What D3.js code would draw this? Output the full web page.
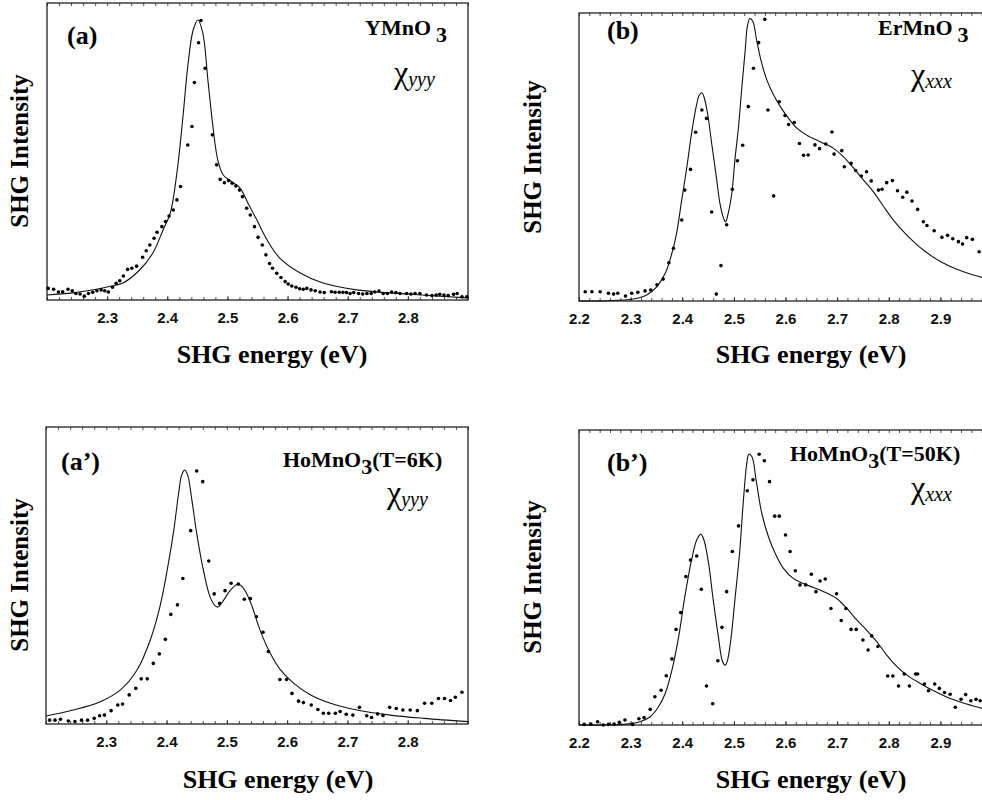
<!DOCTYPE html>
<html>
<head>
<meta charset="utf-8">
<script src="https://cdn.jsdelivr.net/npm/d3@7"></script>
<style>
  body { margin: 0; background: #fff; }
  .tick text { font-family: "Liberation Sans", Arial, sans-serif; font-weight: bold; font-size: 15px; fill: #111; }
</style>
</head>
<body>
<svg id="chart" width="982" height="800"></svg>
<script>

var SERIF = "'Liberation Serif', 'Times New Roman', serif";

// tick labels
var ticksA = [2.3, 2.4, 2.5, 2.6, 2.7, 2.8];
var ticksB = [2.2, 2.3, 2.4, 2.5, 2.6, 2.7, 2.8, 2.9];

// (a) YMnO3 : measured points [energy eV, intensity]
var dotsA = [[2.202,3.9],[2.211,3.6],[2.219,2.7],[2.226,2.8],[2.235,3.6],[2.242,3.1],[2.248,2.2],[2.255,2.0],
  [2.262,1.3],[2.269,2.2],[2.276,2.6],[2.283,3.1],[2.290,3.4],[2.296,3.1],[2.302,2.7],[2.309,4.3],[2.315,5.6],
  [2.321,6.5],[2.327,8.1],[2.334,10.3],[2.341,10.7],[2.349,11.4],[2.359,14.4],[2.365,16.6],[2.371,18.5],
  [2.378,20.8],[2.383,22.8],[2.391,24.7],[2.397,26.4],[2.403,28.3],[2.410,30.3],[2.416,33.7],[2.422,38.2],
  [2.434,52.2],[2.441,58.4],[2.445,73.2],[2.452,86.6],[2.456,94.1],[2.463,78.0],[2.475,55.6],[2.482,45.5],
  [2.488,40.6],[2.495,39.5],[2.502,40.2],[2.508,39.3],[2.514,38.4],[2.520,37.0],[2.525,34.8],[2.532,30.9],
  [2.538,28.6],[2.545,24.7],[2.551,21.1],[2.558,18.5],[2.564,15.2],[2.570,12.3],[2.575,10.7],[2.582,9.0],
  [2.589,7.6],[2.596,6.2],[2.601,5.4],[2.607,4.7],[2.614,4.3],[2.620,3.8],[2.626,3.6],[2.632,3.9],[2.639,3.4],
  [2.646,3.1],[2.654,2.7],[2.661,2.5],[2.673,2.8],[2.679,2.6],[2.686,2.6],[2.692,2.6],[2.698,2.5],[2.704,2.2],
  [2.710,2.5],[2.718,2.2],[2.725,2.0],[2.732,2.2],[2.739,2.2],[2.745,2.7],[2.752,3.0],[2.759,2.2],[2.766,2.2],
  [2.773,2.7],[2.780,2.5],[2.787,2.2],[2.798,2.2],[2.805,2.0],[2.812,2.2],[2.820,2.2],[2.831,1.7],[2.840,1.5],
  [2.847,1.7],[2.853,1.9],[2.860,1.7],[2.867,1.5],[2.876,1.9],[2.882,2.2],[2.890,1.1],[2.898,1.1]];
// (a) fit curve
var fitA = [[2.200,1.7],[2.243,2.4],[2.300,4.4],[2.326,5.7],[2.354,10.1],[2.376,15.8],[2.393,23.6],[2.405,29.3],
  [2.416,42.8],[2.426,61.6],[2.434,78.5],[2.443,90.9],[2.451,94.3],[2.459,89.9],[2.468,73.1],[2.476,58.2],
  [2.484,47.1],[2.493,42.1],[2.508,39.7],[2.521,37.7],[2.534,32.7],[2.549,26.9],[2.566,20.2],[2.587,14.1],
  [2.621,9.1],[2.659,5.7],[2.715,3.4],[2.799,2.0],[2.898,0.7]];

// (b) ErMnO3
var dotsB = [[2.212,3.2],[2.225,3.2],[2.241,3.2],[2.257,2.7],[2.267,2.4],[2.275,2.7],[2.290,1.7],[2.302,2.7],
  [2.314,3.0],[2.328,3.5],[2.339,3.8],[2.351,5.6],[2.363,7.6],[2.374,13.3],[2.383,18.3],[2.399,28.1],
  [2.405,38.5],[2.416,45.7],[2.426,58.6],[2.438,66.3],[2.447,63.4],[2.457,30.9],[2.466,2.4],[2.475,12.3],
  [2.486,26.5],[2.497,38.8],[2.507,48.7],[2.517,54.1],[2.528,67.5],[2.538,80.8],[2.548,89.7],[2.560,97.8],
  [2.566,66.3],[2.577,36.5],[2.588,69.2],[2.599,64.4],[2.606,61.3],[2.617,62.0],[2.627,54.7],[2.635,50.6],
  [2.644,50.7],[2.657,54.2],[2.666,52.9],[2.678,54.5],[2.690,58.7],[2.694,51.0],[2.709,52.2],[2.714,46.6],
  [2.727,47.8],[2.736,45.3],[2.747,43.4],[2.757,44.9],[2.766,41.7],[2.780,38.5],[2.787,38.8],[2.796,41.1],
  [2.807,41.8],[2.817,38.3],[2.827,36.0],[2.835,37.8],[2.845,34.7],[2.856,31.8],[2.867,27.5],[2.874,26.2],
  [2.888,24.4],[2.903,22.1],[2.914,22.8],[2.924,21.6],[2.935,20.6],[2.943,19.8],[2.951,22.0],[2.962,21.4],
  [2.975,17.1]];
var fitB = [[2.200,0],[2.254,0.1],[2.305,0.7],[2.331,2.1],[2.351,5.0],[2.367,9.6],[2.380,16.6],[2.389,23.5],
  [2.399,35.1],[2.409,46.6],[2.418,58.2],[2.427,67.5],[2.433,71.5],[2.438,72.3],[2.442,70.9],[2.449,65.2],
  [2.457,54.7],[2.466,43.2],[2.473,33.9],[2.480,28.7],[2.484,27.5],[2.489,30.4],[2.496,37.4],[2.502,49.0],
  [2.509,60.5],[2.515,73.3],[2.522,87.2],[2.526,95.3],[2.531,98.1],[2.537,97.0],[2.544,90.6],[2.554,82.5],
  [2.564,76.7],[2.577,71.5],[2.590,67.5],[2.606,63.4],[2.622,60.0],[2.641,57.6],[2.667,55.3],[2.693,53.0],
  [2.712,50.1],[2.732,46.1],[2.751,42.0],[2.770,38.0],[2.790,32.8],[2.809,28.1],[2.835,22.9],[2.867,17.7],
  [2.900,13.7],[2.932,11.0],[2.964,9.0],[2.981,8.2]];

// (a') HoMnO3 T=6K
var dotsA2 = [[2.206,1.3],[2.215,1.3],[2.224,1.6],[2.237,1.0],[2.248,0.8],[2.259,1.3],[2.269,1.3],[2.280,1.9],
  [2.289,2.8],[2.297,3.0],[2.308,4.5],[2.319,6.4],[2.327,6.7],[2.338,9.8],[2.349,12.0],[2.358,15.2],
  [2.368,15.2],[2.378,20.4],[2.388,23.6],[2.398,28.5],[2.407,36.9],[2.418,40.1],[2.427,49.0],[2.440,65.1],
  [2.450,85.2],[2.460,81.6],[2.470,54.9],[2.479,43.8],[2.488,40.6],[2.497,44.9],[2.507,47.4],[2.519,47.1],
  [2.529,42.0],[2.539,42.2],[2.549,36.1],[2.560,30.9],[2.569,24.4],[2.588,15.0],[2.599,15.0],[2.608,10.3],
  [2.619,7.7],[2.627,7.2],[2.640,6.4],[2.651,4.9],[2.660,3.6],[2.669,3.6],[2.680,3.6],[2.688,4.2],[2.698,3.3],
  [2.709,3.0],[2.720,5.6],[2.732,2.8],[2.740,2.2],[2.750,3.4],[2.759,2.9],[2.770,5.6],[2.781,5.2],[2.792,4.7],
  [2.804,4.7],[2.816,4.5],[2.828,7.0],[2.840,7.0],[2.851,8.6],[2.861,8.6],[2.871,7.9],[2.879,9.0],[2.890,10.7]];
var fitA2 = [[2.200,2.7],[2.245,4.7],[2.290,7.5],[2.323,11.4],[2.351,18.2],[2.373,28.3],[2.389,39.5],[2.403,54.1],
  [2.412,65.3],[2.420,77.7],[2.425,83.8],[2.430,85.5],[2.435,83.8],[2.442,75.4],[2.450,64.2],[2.461,51.9],
  [2.472,42.9],[2.481,39.7],[2.486,39.5],[2.495,41.8],[2.506,45.1],[2.517,47.0],[2.522,46.8],[2.531,44.6],
  [2.542,39.5],[2.555,31.6],[2.572,23.8],[2.589,18.2],[2.611,13.7],[2.639,9.8],[2.672,7.0],[2.716,4.7],
  [2.771,3.0],[2.827,1.9],[2.900,0.8]];

// (b') HoMnO3 T=50K
var dotsB2 = [[2.210,0.2],[2.223,0.3],[2.236,1.1],[2.247,0],[2.257,0.2],[2.268,0.3],[2.278,0.9],[2.289,1.7],
  [2.304,0.2],[2.316,2.1],[2.326,2.5],[2.338,5.3],[2.347,9.6],[2.359,11.8],[2.369,16.7],[2.380,22.4],
  [2.388,32.4],[2.397,38.1],[2.407,50.3],[2.416,55.9],[2.428,57.3],[2.437,46.0],[2.447,13.2],[2.459,7.2],
  [2.469,21.8],[2.477,33.1],[2.486,45.2],[2.497,58.8],[2.509,67.5],[2.526,79.4],[2.537,83.1],[2.549,91.8],
  [2.559,89.6],[2.569,82.5],[2.579,70.8],[2.588,70.8],[2.600,64.4],[2.609,58.8],[2.619,52.3],[2.628,47.5],
  [2.639,47.5],[2.650,51.1],[2.659,45.2],[2.667,48.8],[2.677,49.5],[2.688,39.5],[2.699,44.5],[2.708,35.4],
  [2.717,39.5],[2.727,32.4],[2.737,32.4],[2.750,28.8],[2.760,25.4],[2.767,30.2],[2.779,26.6],[2.798,16.6],
  [2.808,16.6],[2.819,13.2],[2.830,17.3],[2.840,13.2],[2.852,17.3],[2.856,17.3],[2.869,13.9],[2.877,11.6],
  [2.889,13.9],[2.898,12.4],[2.908,11.0],[2.919,10.4],[2.929,6.0],[2.940,8.7],[2.949,10.3],[2.959,8.2],
  [2.969,8.7],[2.977,8.2]];
var fitB2 = [[2.200,0],[2.254,0],[2.292,0.3],[2.318,1.1],[2.338,2.8],[2.354,6.2],[2.367,10.7],[2.380,18.6],
  [2.393,29.9],[2.405,43.5],[2.418,55.9],[2.428,62.7],[2.436,64.7],[2.442,62.7],[2.451,54.8],[2.460,42.4],
  [2.470,29.9],[2.478,21.5],[2.483,20.3],[2.487,21.5],[2.494,28.8],[2.502,42.4],[2.511,58.2],[2.518,75.1],
  [2.525,88.7],[2.529,91.8],[2.535,90.9],[2.543,83.1],[2.554,71.8],[2.567,63.8],[2.580,58.2],[2.596,53.1],
  [2.615,49.7],[2.641,47.5],[2.674,45.2],[2.699,42.9],[2.719,39.5],[2.738,35.6],[2.757,32.2],[2.777,28.2],
  [2.796,23.7],[2.816,19.8],[2.835,16.9],[2.861,14.1],[2.887,11.6],[2.919,9.0],[2.951,7.1],[2.981,5.6]];

var panels = [
  { label: "(a)", sample: "YMnO", tail: "", sub: "yyy", gap: true,
    box: { x0: 47, x1: 468, y0: 3, y1: 300 }, domain: [2.2, 2.9], ticks: ticksA,
    dots: dotsA, fit: fitA,
    labelPos: [67, 44], samplePos: [365, 35], chiPos: [394, 83],
    yTitle: [28, 151], xTitle: [272, 363] },
  { label: "(b)", sample: "ErMnO", tail: "", sub: "xxx", gap: true,
    box: { x0: 579, x1: 992, y0: 13, y1: 301 }, domain: [2.2, 3.0], ticks: ticksB,
    dots: dotsB, fit: fitB,
    labelPos: [607, 39], samplePos: [878, 35], chiPos: [911, 85],
    yTitle: [541, 157], xTitle: [811, 363] },
  { label: "(a\u2019)", sample: "HoMnO", tail: "(T=6K)", sub: "yyy", gap: false,
    box: { x0: 46, x1: 468, y0: 427, y1: 724 }, domain: [2.2, 2.9], ticks: ticksA,
    dots: dotsA2, fit: fitA2,
    labelPos: [61, 470], samplePos: [283, 467], chiPos: [387, 503],
    yTitle: [28, 575], xTitle: [278, 788] },
  { label: "(b\u2019)", sample: "HoMnO", tail: "(T=50K)", sub: "xxx", gap: false,
    box: { x0: 579, x1: 992, y0: 430, y1: 725 }, domain: [2.2, 3.0], ticks: ticksB,
    dots: dotsB2, fit: fitB2,
    labelPos: [607, 471], samplePos: [790, 461], chiPos: [911, 498],
    yTitle: [541, 577], xTitle: [811, 788] }
];

var svg = d3.select("#chart");

panels.forEach(function(p) {
  var b = p.box;
  var x = d3.scaleLinear().domain(p.domain).range([b.x0, b.x1]);
  var y = d3.scaleLinear().domain([0, 100]).range([b.y1, b.y0]);

  var g = svg.append("g");

  // minor ticks every 0.02 eV, top and bottom, pointing inward
  var minor = d3.range(Math.round(p.domain[0] * 50), Math.round(p.domain[1] * 50) + 1)
    .map(function(k) { return k / 50; });

  g.append("g")
    .attr("transform", "translate(0," + b.y1 + ")")
    .call(d3.axisBottom(x).tickValues(minor).tickSize(-3).tickFormat(""))
    .call(function(s) { s.select(".domain").remove(); });

  g.append("g")
    .attr("transform", "translate(0," + b.y0 + ")")
    .call(d3.axisTop(x).tickValues(minor).tickSize(-3).tickFormat(""))
    .call(function(s) { s.select(".domain").remove(); });

  // labelled ticks
  g.append("g")
    .attr("transform", "translate(0," + b.y1 + ")")
    .call(d3.axisBottom(x).tickValues(p.ticks).tickSize(-4).tickPadding(12).tickFormat(d3.format(".1f")))
    .call(function(s) {
      s.select(".domain").remove();
      s.selectAll(".tick text").attr("dy", "0.71em");
    });

  g.selectAll(".tick line").attr("stroke", "#222").attr("stroke-width", 0.8);

  // frame
  g.append("rect")
    .attr("x", b.x0).attr("y", b.y0)
    .attr("width", b.x1 - b.x0).attr("height", b.y1 - b.y0)
    .attr("fill", "none").attr("stroke", "#222").attr("stroke-width", 1.3);

  // fit line
  var line = d3.line()
    .x(function(d) { return x(d[0]); })
    .y(function(d) { return y(d[1]); })
    .curve(d3.curveCatmullRom.alpha(0.5));

  g.append("path")
    .datum(p.fit)
    .attr("d", line)
    .attr("fill", "none")
    .attr("stroke", "#111")
    .attr("stroke-width", 1.1);

  // data points
  g.selectAll("circle.pt")
    .data(p.dots)
    .enter().append("circle")
    .attr("class", "pt")
    .attr("cx", function(d) { return x(d[0]); })
    .attr("cy", function(d) { return y(d[1]); })
    .attr("r", 1.8)
    .attr("fill", "#000");

  // panel letter
  g.append("text")
    .attr("font-family", SERIF)
    .attr("x", p.labelPos[0]).attr("y", p.labelPos[1])
    .attr("font-size", 26).attr("font-weight", "bold")
    .text(p.label);

  // compound name with subscript 3
  var t = g.append("text")
    .attr("font-family", SERIF)
    .attr("x", p.samplePos[0]).attr("y", p.samplePos[1])
    .attr("font-size", 22).attr("font-weight", "bold");
  t.append("tspan").text(p.sample);
  t.append("tspan").attr("dx", p.gap ? 5 : 0).attr("dy", 7).text("3");
  if (p.tail) t.append("tspan").attr("dy", -7).text(p.tail);

  // susceptibility component
  var c = g.append("text")
    .attr("font-family", SERIF)
    .attr("x", p.chiPos[0]).attr("y", p.chiPos[1])
    .attr("font-size", 32);
  c.append("tspan").text("\u03c7");
  c.append("tspan").attr("dy", 3).attr("font-size", 20).attr("font-style", "italic").text(p.sub);

  // axis titles
  g.append("text")
    .attr("font-family", SERIF)
    .attr("x", p.xTitle[0]).attr("y", p.xTitle[1])
    .attr("text-anchor", "middle")
    .attr("font-size", 26).attr("font-weight", "bold")
    .text("SHG energy (eV)");

  g.append("text")
    .attr("font-family", SERIF)
    .attr("transform", "translate(" + p.yTitle[0] + "," + p.yTitle[1] + ") rotate(-90)")
    .attr("text-anchor", "middle")
    .attr("font-size", 25).attr("font-weight", "bold")
    .text("SHG Intensity");
});

</script>
</body>
</html>
